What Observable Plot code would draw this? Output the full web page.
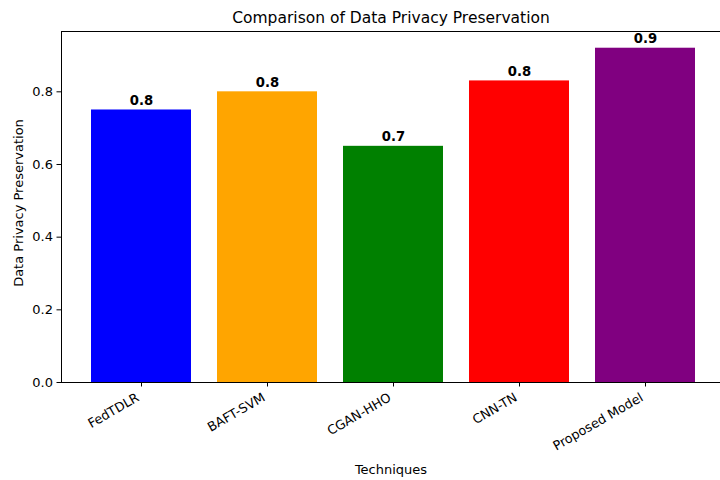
<!DOCTYPE html>
<html><head><meta charset="utf-8">
<script src="https://cdn.jsdelivr.net/npm/d3@7"></script>
<script src="https://cdn.jsdelivr.net/npm/@observablehq/plot@0.6"></script>
<style>
body{margin:0;background:#fff;}
svg{font-family:"DejaVu Sans",sans-serif;}
</style>
</head><body><div id="chart"></div>
<script>
const techniques = ["FedTDLR", "BAFT-SVM", "CGAN-HHO", "CNN-TN", "Proposed Model"];
const privacy = [0.75, 0.80, 0.65, 0.83, 0.92];
const barColors = ["blue", "orange", "green", "red", "purple"];
const yTicks = [0.0, 0.2, 0.4, 0.6, 0.8];
const title = "Comparison of Data Privacy Preservation";
const xLabel = "Techniques";
const yLabel = "Data Privacy Preservation";

const data = techniques.map((t, i) => ({technique: t, value: privacy[i], color: barColors[i]}));
const ymax = d3.max(privacy) * 1.05;
const fs = 13;

const chart = Plot.plot({
  width: 720,
  height: 480,
  marginLeft: 61,
  marginRight: 0,
  marginTop: 31,
  marginBottom: 98,
  style: {fontFamily: "DejaVu Sans, sans-serif", fontSize: fs + "px", color: "black", background: "white"},
  x: {domain: techniques, range: [64, 722], paddingInner: 0.21, paddingOuter: 0.2, align: 0.5},
  y: {domain: [0, ymax]},
  color: {type: "identity"},
  marks: [
    Plot.barY(data, {x: "technique", y: "value", fill: "color"}),
    Plot.frame({anchor: "left", stroke: "black"}),
    Plot.frame({anchor: "top", stroke: "black"}),
    Plot.frame({anchor: "bottom", stroke: "black"}),
    Plot.axisY({ticks: yTicks, tickFormat: d3.format(".1f"), tickSize: 4.5, tickPadding: 4, label: null}),
    Plot.axisX({tickSize: 4.5, tickFormat: () => "", label: null}),
    Plot.text(data, {x: "technique", frameAnchor: "bottom", text: "technique", rotate: -30, textAnchor: "end", lineAnchor: "middle", dx: -3.5, dy: 14, fontSize: 12.8}),
    Plot.text(data, {x: "technique", y: "value", text: d => d.value.toFixed(1), lineAnchor: "bottom", dy: -5, fontWeight: "bold", fontSize: 13.2}),
    Plot.text([title], {frameAnchor: "top", lineAnchor: "bottom", dy: -9, fontSize: 15.5, text: d => d}),
    Plot.text([xLabel], {frameAnchor: "bottom", lineAnchor: "middle", dy: 87, fontSize: fs, text: d => d}),
    Plot.text([yLabel], {frameAnchor: "left", textAnchor: "middle", lineAnchor: "middle", rotate: -90, dx: -43, dy: -4, fontSize: fs, text: d => d})
  ]
});
document.getElementById("chart").appendChild(chart);
</script>
</body></html>
